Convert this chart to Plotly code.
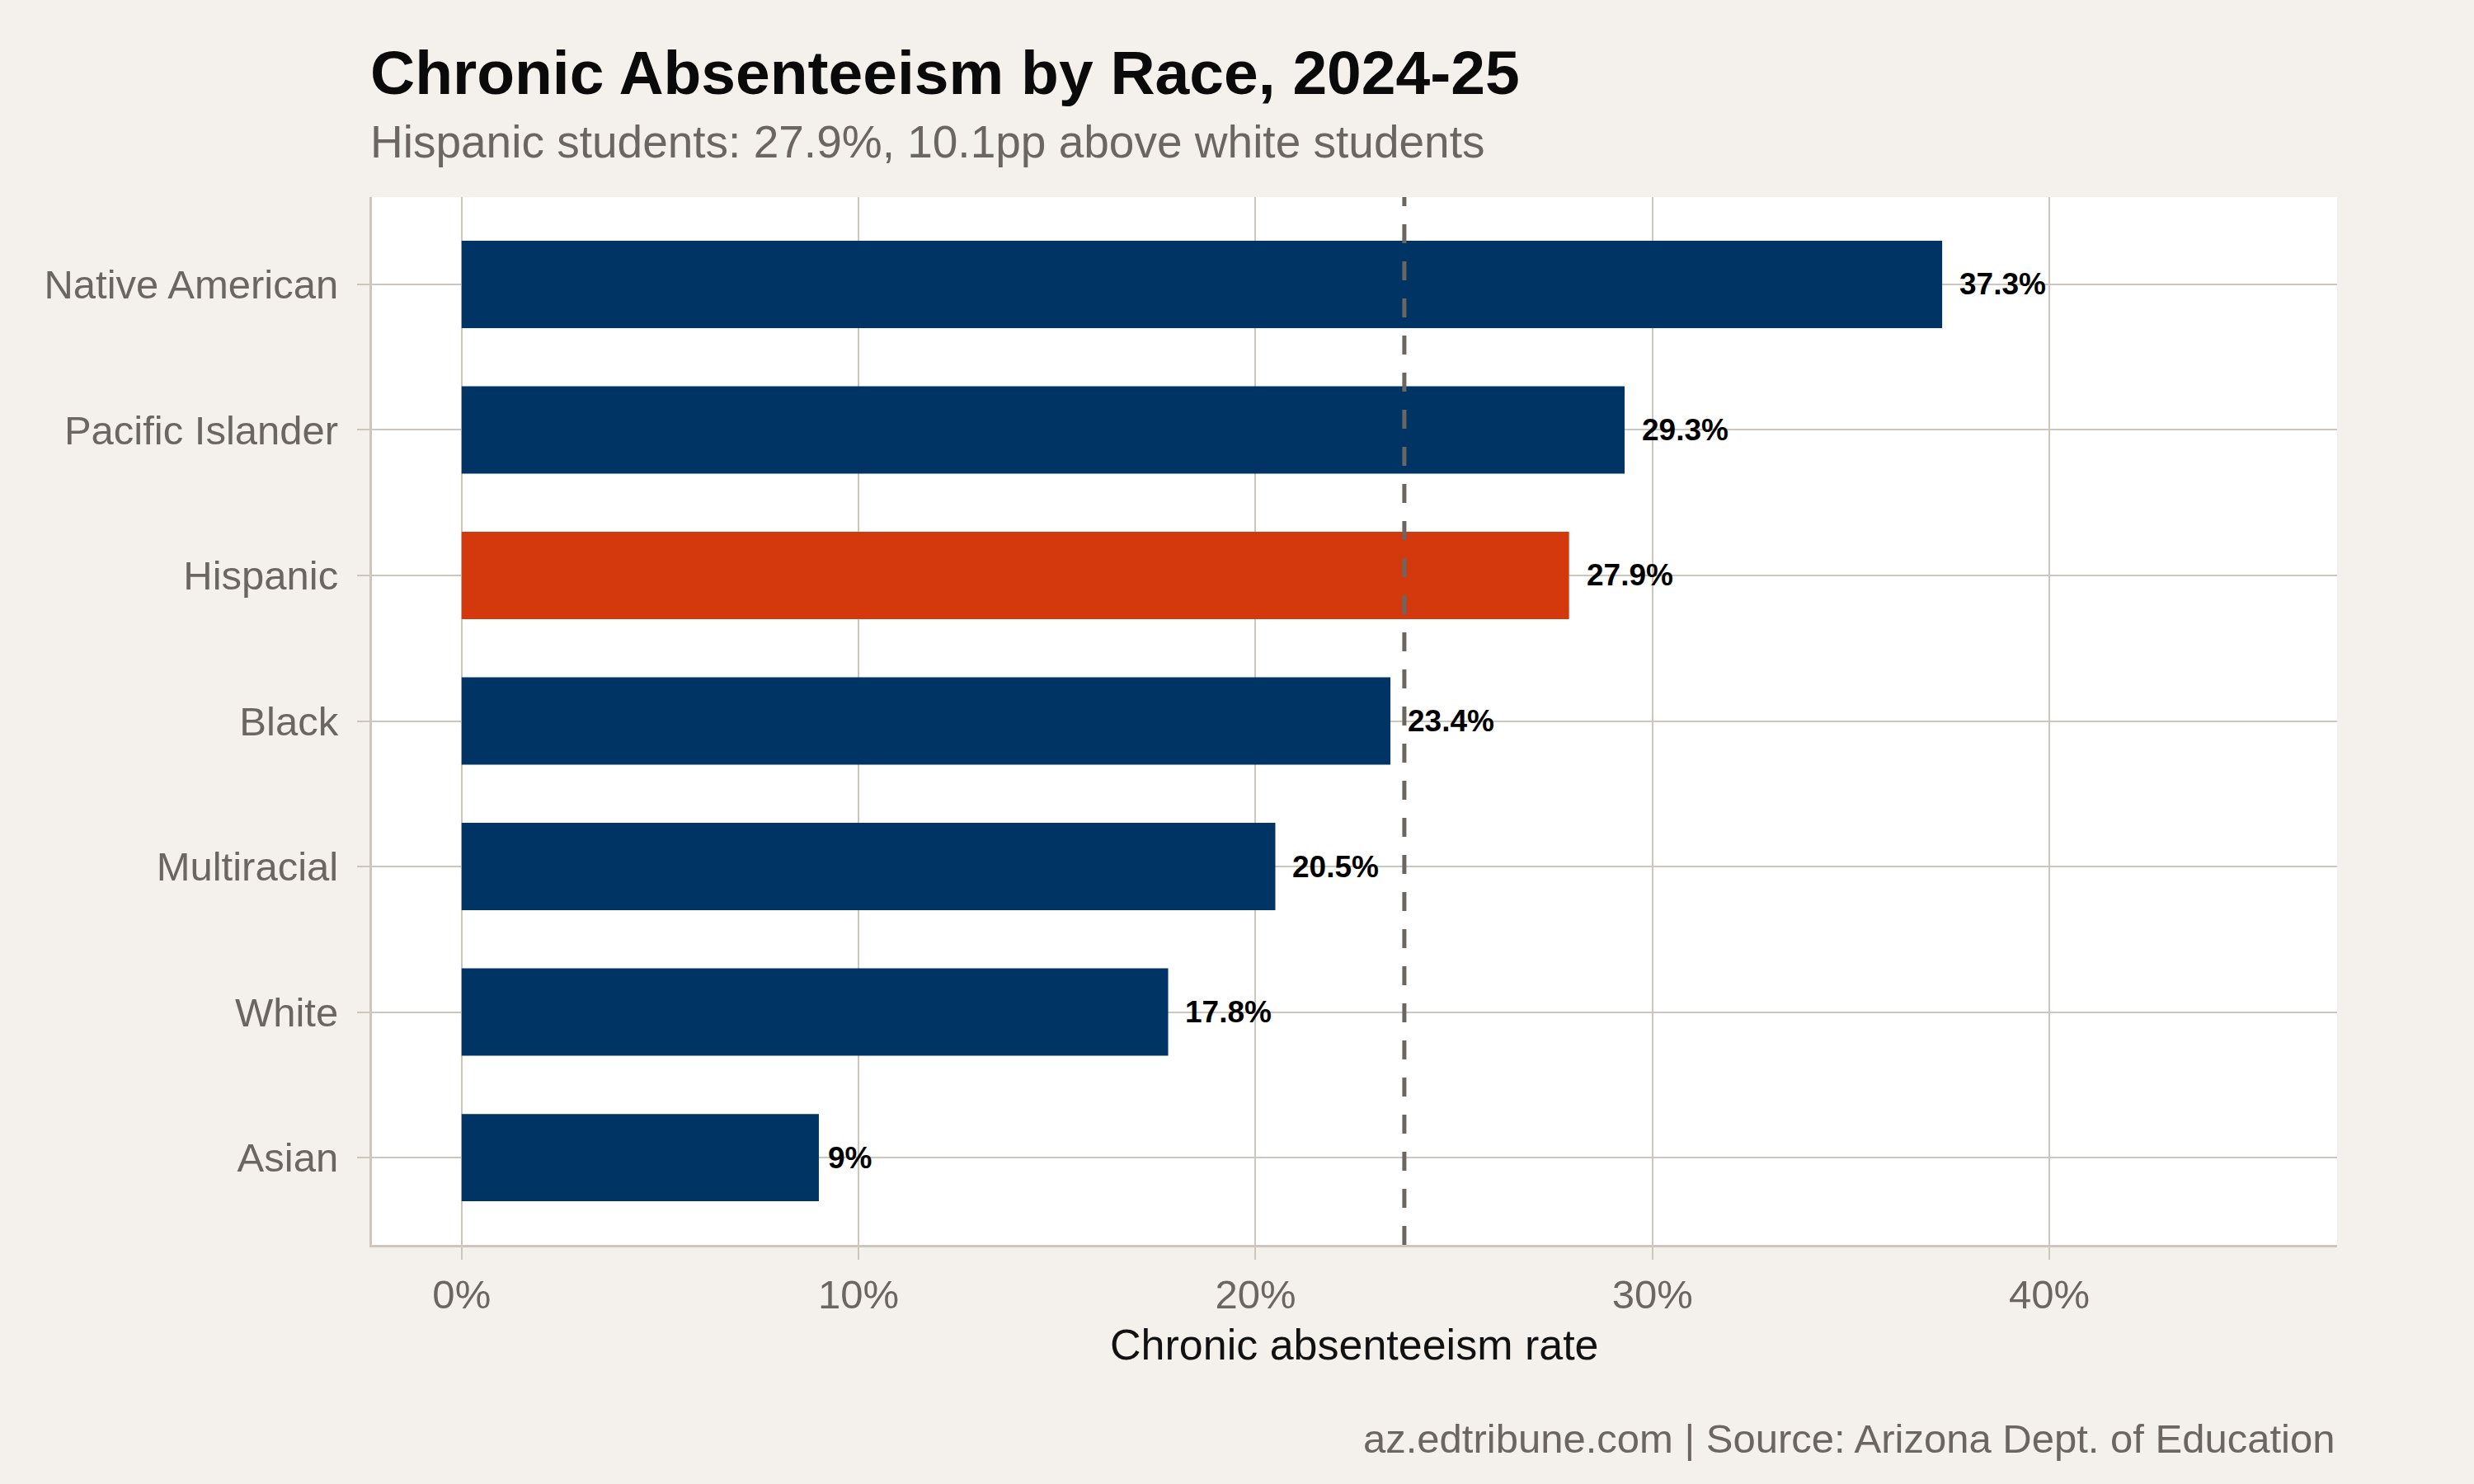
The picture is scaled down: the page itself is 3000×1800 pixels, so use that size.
"""
Chronic absenteeism by race, 2024-25 — horizontal bar chart.
"""

import plotly.graph_objects as go


# ── Data ──────────────────────────────────────────────────────────────────────

GROUPS = ["Native American", "Pacific Islander", "Hispanic", "Black",
          "Multiracial", "White", "Asian"]
RATES = [37.3, 29.3, 27.9, 23.4, 20.5, 17.8, 9.0]
HIGHLIGHT = "Hispanic"
STATE_AVG = 23.75
X_TICKS = [0, 10, 20, 30, 40]
X_TICK_TEXT = ["0%", "10%", "20%", "30%", "40%"]

TITLE = "Chronic Absenteeism by Race, 2024-25"
SUBTITLE = "Hispanic students: 27.9%, 10.1pp above white students"
X_TITLE = "Chronic absenteeism rate"
CAPTION = "az.edtribune.com | Source: Arizona Dept. of Education"


# ── Style ─────────────────────────────────────────────────────────────────────

FONT = "Liberation Sans, Arial, Helvetica, sans-serif"
BG = "#F4F1EC"
GRID = "#CCC6BC"
NAVY = "#003464"
ORANGE = "#D4390D"
GREY_TEXT = "#6B6661"
LABEL_SIZE = 37

# Liberation Sans Bold advance widths (em) for the label glyphs
GLYPH_W = {".": 0.278, "%": 0.889}


def _label_width(txt: str) -> float:
    return sum(GLYPH_W.get(ch, 0.556) for ch in txt) * LABEL_SIZE


labels = [f"{v:g}%" for v in RATES]
colors = [ORANGE if g == HIGHLIGHT else NAVY for g in GROUPS]

fig = go.Figure(go.Bar(
    x=RATES,
    y=GROUPS,
    orientation="h",
    width=0.6,
    marker=dict(color=colors, line=dict(width=0)),
    hoverinfo="skip",
))

# value labels, nudged right by a fifth of their own width (hjust = -0.2)
for g, v, lbl in zip(GROUPS, RATES, labels):
    fig.add_annotation(
        x=v, y=g, text=f"<b>{lbl}</b>", showarrow=False,
        xanchor="left", yanchor="middle",
        xshift=0.2 * _label_width(lbl) - 2,
        font=dict(family=FONT, size=LABEL_SIZE, color="#000000"),
    )

fig.add_shape(
    type="line", xref="x", yref="paper",
    x0=STATE_AVG, x1=STATE_AVG, y0=0, y1=1,
    line=dict(color="#6B6661", width=5, dash="23px,22px"),
)

# titles and caption
fig.add_annotation(
    xref="paper", yref="paper", x=-0.0015, y=1.1185,
    xanchor="left", yanchor="middle", showarrow=False,
    text=f"<b>{TITLE}</b>",
    font=dict(family=FONT, size=75, color="#0A0A0A"),
)
fig.add_annotation(
    xref="paper", yref="paper", x=-0.0015, y=1.0530,
    xanchor="left", yanchor="middle", showarrow=False,
    text=SUBTITLE,
    font=dict(family=FONT, size=55, color=GREY_TEXT),
)
fig.add_annotation(
    xref="paper", yref="paper", x=0.5, y=-0.0955,
    xanchor="center", yanchor="middle", showarrow=False,
    text=X_TITLE,
    font=dict(family=FONT, size=52, color="#111111"),
)
fig.add_annotation(
    xref="paper", yref="paper", x=1.0, y=-0.1849,
    xanchor="right", yanchor="middle", showarrow=False,
    text=CAPTION,
    font=dict(family=FONT, size=49, color=GREY_TEXT),
)

fig.update_layout(
    width=3000,
    height=1800,
    margin=dict(l=451, r=166, t=239, b=290, pad=0),
    paper_bgcolor=BG,
    plot_bgcolor="#FFFFFF",
    font=dict(family=FONT, color=GREY_TEXT),
    showlegend=False,
    xaxis=dict(
        range=[-2.26, 47.25],
        tickvals=X_TICKS,
        ticktext=X_TICK_TEXT,
        tickfont=dict(family=FONT, size=49, color=GREY_TEXT),
        showgrid=True, gridcolor=GRID, gridwidth=2,
        zeroline=False,
        showline=True, linecolor=GRID, linewidth=3,
        ticks="outside", ticklen=15, tickwidth=2, tickcolor=GRID,
        ticklabelstandoff=0,
        fixedrange=True,
    ),
    yaxis=dict(
        type="category",
        categoryorder="array",
        categoryarray=GROUPS,
        range=[6.6, -0.6],
        tickfont=dict(family=FONT, size=49, color=GREY_TEXT),
        showgrid=True, gridcolor=GRID, gridwidth=2,
        zeroline=False,
        showline=True, linecolor=GRID, linewidth=3,
        ticks="outside", ticklen=15, tickwidth=2, tickcolor=GRID,
        ticklabelstandoff=13,
        fixedrange=True,
    ),
)

# drop the browser's default page margin so the figure fills the window
fig.write_html(
    "out.html",
    config={"displayModeBar": False},
    post_script=f"document.body.style.margin='0';"
                f"document.body.style.background='{BG}';",
)
